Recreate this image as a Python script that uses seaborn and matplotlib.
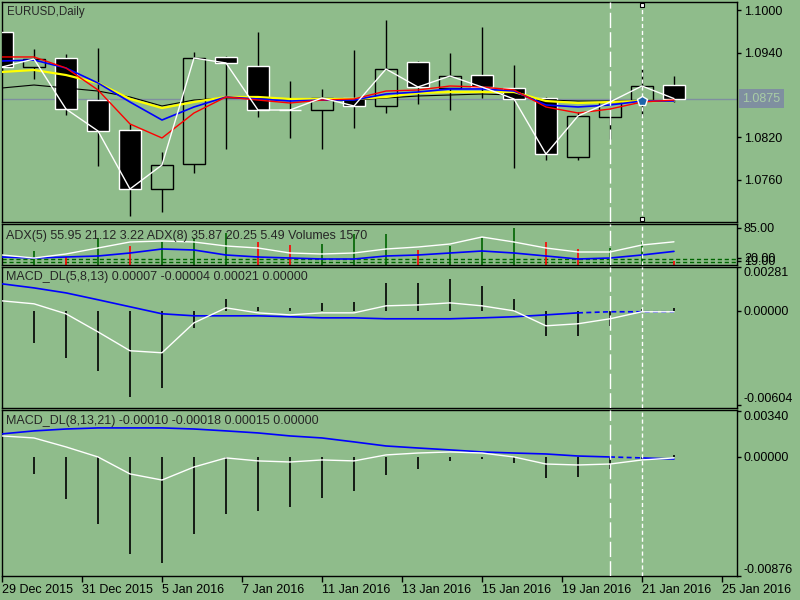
import numpy as np
import matplotlib
matplotlib.use('Agg')
import matplotlib.pyplot as plt
import matplotlib.transforms as mtrans
import seaborn as sns

# ---- data (22 bars) ----
bar_idx = np.arange(22)
open_p = [1.09689, 1.09195, 1.09322, 1.08729, 1.08306, 1.07473, 1.07826, 1.09337, 1.09209, 1.08588, 1.08588,
          1.08758, 1.08645, 1.09266, 1.08899, 1.09082, 1.08899, 1.08758, 1.07925, 1.08489, 1.08729, 1.08941]
high_p = [1.09718, 1.09449, 1.09379, 1.09464, 1.08391, 1.07995, 1.09407, 1.09351, 1.09689, 1.08998, 1.08885,
          1.09435, 1.09859, 1.09280, 1.09393, 1.09760, 1.09224, 1.08772, 1.08560, 1.08710, 1.09167, 1.09068]
low_p = [1.09160, 1.09026, 1.08518, 1.07798, 1.07092, 1.07148, 1.07699, 1.08038, 1.08489, 1.08193, 1.08038,
         1.08334, 1.08546, 1.08673, 1.08588, 1.08758, 1.07769, 1.07882, 1.07882, 1.08179, 1.08504, 1.08701]
close_p = [1.09195, 1.09308, 1.08602, 1.08292, 1.07473, 1.07812, 1.09322, 1.09252, 1.08588, 1.08588, 1.08758,
           1.08645, 1.09167, 1.08913, 1.09068, 1.08913, 1.08744, 1.07967, 1.08504, 1.08701, 1.08927, 1.08750]

# moving averages on the price window
ma_red = [1.09337, 1.09337, 1.09181, 1.08871, 1.08391, 1.08193, 1.08546, 1.08772, 1.08729, 1.08687, 1.08729,
          1.08744, 1.08856, 1.08871, 1.08927, 1.08913, 1.08871, 1.08631, 1.08546, 1.08602, 1.08701, 1.08729]
ma_blue = [1.09280, 1.09294, 1.09181, 1.08969, 1.08701, 1.08447, 1.08631, 1.08772, 1.08744, 1.08715, 1.08729,
           1.08729, 1.08814, 1.08842, 1.08885, 1.08885, 1.08856, 1.08659, 1.08631, 1.08659, 1.08715, 1.08715]
ma_yellow = [1.09125, 1.09153, 1.09082, 1.08969, 1.08744, 1.08616, 1.08701, 1.08772, 1.08772, 1.08744, 1.08744,
             1.08744, 1.08772, 1.08828, 1.08842, 1.08842, 1.08842, 1.08715, 1.08687, 1.08701, 1.08715, 1.08715]
ma_black = [1.08899, 1.08941, 1.08899, 1.08856, 1.08772, 1.08645, 1.08729, 1.08758, 1.08758, 1.08744, 1.08729,
            1.08729, 1.08758, 1.08786, 1.08800, 1.08814, 1.08800, 1.08729, 1.08715, 1.08715, 1.08715, 1.08715]
bid_price = 1.0875

# ADX window
adx5 = [28.3, 22.0, 30.4, 43.0, 55.6, 57.7, 55.6, 47.2, 43.0, 32.5, 30.4,
        32.5, 40.9, 45.1, 51.4, 66.1, 55.6, 43.0, 34.6, 34.6, 49.3, 56.0]
adx8 = [24.1, 22.0, 24.1, 26.2, 32.5, 40.9, 38.8, 28.3, 24.1, 22.0, 19.9,
        19.9, 26.2, 28.3, 32.5, 36.7, 32.5, 26.2, 19.9, 22.0, 28.3, 35.9]
vol_bars = [0, 36.7, 24.1, 64.0, 47.2, 55.6, 64.0, 74.5, 55.6, 49.3, 51.4,
            72.4, 72.4, 38.8, 47.2, 64.0, 85.0, 55.6, 40.9, 43.0, 55.6, 15.7]
vol_dir = ['g', 'g', 'r', 'g', 'r', 'g', 'g', 'g', 'r', 'r', 'g',
           'g', 'g', 'r', 'g', 'g', 'g', 'r', 'r', 'g', 'g', 'r']
adx_levels = [20.0, 14.0]

# MACD_DL(5,8,13)
macd1_main = [0.00064, 0.00045, -0.00019, -0.00135, -0.00256, -0.00269, -0.00077, 0.00019, -0.00013, -0.00026, -0.00013,
              -0.00013, 0.00032, 0.00038, 0.00051, 0.00032, 0.0, -0.00096, -0.00083, -0.00051, -0.00006, -0.00006]
macd1_sig = [0.00173, 0.00147, 0.00115, 0.00071, 0.00026, -0.00019, -0.00032, -0.00032, -0.00032, -0.00038, -0.00045,
             -0.00045, -0.00051, -0.00051, -0.00051, -0.00045, -0.00038, -0.00026, -0.00013, -0.00006, -0.00006, -0.00006]
macd1_hist = [0.0, -0.00205, -0.00301, -0.00385, -0.00551, -0.00494, -0.00109, 0.00077, 0.00026, 0.00019, 0.00051,
              0.00058, 0.00179, 0.00179, 0.00205, 0.00160, 0.00077, -0.00160, -0.00160, -0.00096, 0.00013, 0.00019]

# MACD_DL(8,13,21)
macd2_main = [0.00155, 0.00140, 0.00074, 0.0, -0.00125, -0.00170, -0.00074, -0.00007, -0.00029, -0.00037, -0.00022,
              -0.00029, 0.00015, 0.00029, 0.00037, 0.00029, 0.0, -0.00052, -0.00059, -0.00052, -0.00022, -0.00007]
macd2_sig = [0.00170, 0.00192, 0.00206, 0.00214, 0.00214, 0.00214, 0.00206, 0.00192, 0.00177, 0.00155, 0.00140,
             0.00111, 0.00081, 0.00066, 0.00052, 0.00037, 0.00029, 0.00022, 0.00007, 0.0, -0.00007, -0.00015]
macd2_hist = [0.0, -0.00125, -0.00310, -0.00494, -0.00715, -0.00781, -0.00567, -0.00420, -0.00398, -0.00369, -0.00302,
              -0.00251, -0.00133, -0.00088, -0.00029, -0.00015, -0.00044, -0.00155, -0.00147, -0.00088, -0.00015, 0.00015]

date_ticks = [0, 2.5, 5, 7.5, 10, 12.5, 15, 17.5, 20, 22.5]
date_labels = ['29 Dec 2015', '31 Dec 2015', '5 Jan 2016', '7 Jan 2016', '11 Jan 2016',
               '13 Jan 2016', '15 Jan 2016', '19 Jan 2016', '21 Jan 2016', '25 Jan 2016']

# ---- styling ----
bg = '#8FBC8B'
sns.set_theme(style='white', rc={'axes.facecolor': bg, 'figure.facecolor': bg,
                                 'axes.edgecolor': 'black', 'axes.linewidth': 1.0})
plt.rcParams['font.family'] = ['Liberation Sans', 'DejaVu Sans']

W, H = 800, 600
fig = plt.figure(figsize=(8, 6), dpi=100)


def panel(top, bottom):
    # axes placed by pixel rows, x from 2 to 737
    return fig.add_axes([2 / W, 1 - bottom / H, 735 / W, (bottom - top) / H])


ax_p = panel(2, 222)
ax_a = panel(224, 265)
ax_m1 = panel(267, 408)
ax_m2 = panel(410, 576)
axes = [ax_p, ax_a, ax_m1, ax_m2]
for ax in axes:
    ax.set_xlim(0, 22.97)
    ax.set_facecolor(bg)
    for s in ax.spines.values():
        s.set_color('black')
        s.set_linewidth(1)
    ax.yaxis.tick_right()
    ax.tick_params(axis='y', direction='out', length=3, width=1, pad=2, labelsize=9,
                   colors='black', right=True, left=False)
    ax.tick_params(axis='x', bottom=False, labelbottom=False)

# ---- price window: candles ----
o = np.array(open_p)
c = np.array(close_p)
bull = c > o
bear = c < o
doji = c == o
lo = np.minimum(o, c)
hgt = np.abs(c - o)
ax_p.vlines(bar_idx, low_p, high_p, color='black', lw=1, zorder=2)
ax_p.bar(bar_idx[bear], hgt[bear], bottom=lo[bear], width=0.69, color='black', zorder=3)
ax_p.bar(bar_idx[bull], hgt[bull], bottom=lo[bull], width=0.69, facecolor=bg,
         edgecolor='black', linewidth=1, zorder=3)
ax_p.hlines(c[doji], bar_idx[doji] - 0.35, bar_idx[doji] + 0.35, color='white', lw=1, zorder=3)

ax_p.axhline(bid_price, color='#7F8FA0', lw=1, zorder=1)

sns.lineplot(x=bar_idx, y=ma_black, ax=ax_p, color='black', lw=0.8, zorder=4)
sns.lineplot(x=bar_idx, y=ma_yellow, ax=ax_p, color='yellow', lw=1.6, zorder=4)
sns.lineplot(x=bar_idx, y=ma_blue, ax=ax_p, color='blue', lw=1.2, zorder=5)
sns.lineplot(x=bar_idx, y=ma_red, ax=ax_p, color='red', lw=1.0, zorder=5)
sns.lineplot(x=bar_idx, y=close_p, ax=ax_p, color='white', lw=1.0, zorder=6)

ax_p.set_ylim(1.07007, 1.10113)
ax_p.set_yticks([1.1000, 1.0940, 1.0820, 1.0760])
ax_p.set_yticklabels(['1.1000', '1.0940', '1.0820', '1.0760'])

# current price tag
tr = mtrans.blended_transform_factory(ax_p.transAxes, ax_p.transData)
ax_p.text(1.0075, bid_price, '1.0875', transform=tr, ha='left', va='center', fontsize=9,
          color='#A9CDA5', clip_on=False,
          bbox=dict(boxstyle='square,pad=0.3', fc='#7F8FA0', ec='none'))

# objects on bar 20
ax_p.plot([20], [1.08718], marker='p', ms=7, color='#1E64AA', mec='white', mew=1, zorder=8)
ax_p.plot([20, 20], [1.10071, 1.07049], ls='none', marker='s', ms=3.5, mfc='white', mec='black',
          mew=0.8, zorder=9, clip_on=False)

# ---- ADX window ----
ax_a.set_ylim(7.3, 93.4)
for k in range(1, 22):
    col = '#006400' if vol_dir[k] == 'g' else 'red'
    ax_a.vlines(bar_idx[k], 7.3, vol_bars[k], color=col, lw=1.2, zorder=2)
for lv in adx_levels:
    ax_a.axhline(lv, color='#006400', lw=1, ls=(0, (3, 2)), zorder=1)
sns.lineplot(x=bar_idx, y=adx8, ax=ax_a, color='blue', lw=1.2, zorder=3)
sns.lineplot(x=bar_idx, y=adx5, ax=ax_a, color='white', lw=1.0, zorder=3)
ax_a.set_yticks([85, 22, 16])
ax_a.set_yticklabels(['85.00', '20.00', '19.00'])

# ---- MACD_DL(5,8,13) window ----
ax_m1.set_ylim(-0.00623, 0.00281)
ax_m1.vlines(bar_idx, 0, macd1_hist, color='black', lw=1.2, zorder=2)
sns.lineplot(x=bar_idx[:19], y=macd1_sig[:19], ax=ax_m1, color='blue', lw=1.2, zorder=3)
sns.lineplot(x=bar_idx[18:], y=macd1_sig[18:], ax=ax_m1, color='blue', lw=1.2, ls=(0, (3, 2)), zorder=3)
sns.lineplot(x=bar_idx, y=macd1_main, ax=ax_m1, color='white', lw=1.0, zorder=4)
ax_m1.set_yticks([0.00281, 0.0, -0.00604])
ax_m1.set_yticklabels(['0.00281', '0.00000', '-0.00604'])
lbl = ax_m1.get_yticklabels()
lbl[0].set_va('top')
lbl[2].set_va('bottom')

# ---- MACD_DL(8,13,21) window ----
ax_m2.set_ylim(-0.00877, 0.00346)
ax_m2.vlines(bar_idx, 0, macd2_hist, color='black', lw=1.2, zorder=2)
sns.lineplot(x=bar_idx[:20], y=macd2_sig[:20], ax=ax_m2, color='blue', lw=1.2, zorder=3)
sns.lineplot(x=bar_idx[19:21], y=macd2_sig[19:21], ax=ax_m2, color='blue', lw=1.2, ls=(0, (3, 2)), zorder=3)
sns.lineplot(x=bar_idx[20:], y=macd2_sig[20:], ax=ax_m2, color='blue', lw=1.2, zorder=3)
sns.lineplot(x=bar_idx, y=macd2_main, ax=ax_m2, color='white', lw=1.0, zorder=4)
ax_m2.set_yticks([0.0034, 0.0, -0.00876])
ax_m2.set_yticklabels(['0.00340', '0.00000', '-0.00876'])
lbl = ax_m2.get_yticklabels()
lbl[0].set_va('top')
lbl[2].set_va('bottom')

# date axis at the bottom
ax_m2.set_xticks(date_ticks)
ax_m2.set_xticklabels(date_labels, ha='left')
ax_m2.tick_params(axis='x', bottom=True, labelbottom=True, direction='out', length=4, width=1,
                  pad=2, labelsize=9, colors='black')

# vertical separators on bars 19 and 20
for ax in axes:
    ax.axvline(19, color='white', lw=1, ls=(0, (11, 3)), zorder=7)
    ax.axvline(20, color='white', lw=1, ls=(0, (3, 2)), zorder=7)
    ax.set_xlabel('')
    ax.set_ylabel('')

# window captions
fig.text(7 / W, 1 - 12 / H, 'EURUSD,Daily', fontsize=8.3, va='center', ha='left')
fig.text(6 / W, 1 - 236 / H, 'ADX(5) 55.95 21.12 3.22 ADX(8) 35.87 20.25 5.49 Volumes 1570',
         fontsize=9, va='center', ha='left')
fig.text(6 / W, 1 - 277 / H, 'MACD_DL(5,8,13) 0.00007 -0.00004 0.00021 0.00000',
         fontsize=9, va='center', ha='left')
fig.text(6 / W, 1 - 421 / H, 'MACD_DL(8,13,21) -0.00010 -0.00018 0.00015 0.00000',
         fontsize=9, va='center', ha='left')

fig.savefig('out.png', dpi=100, facecolor=bg)
